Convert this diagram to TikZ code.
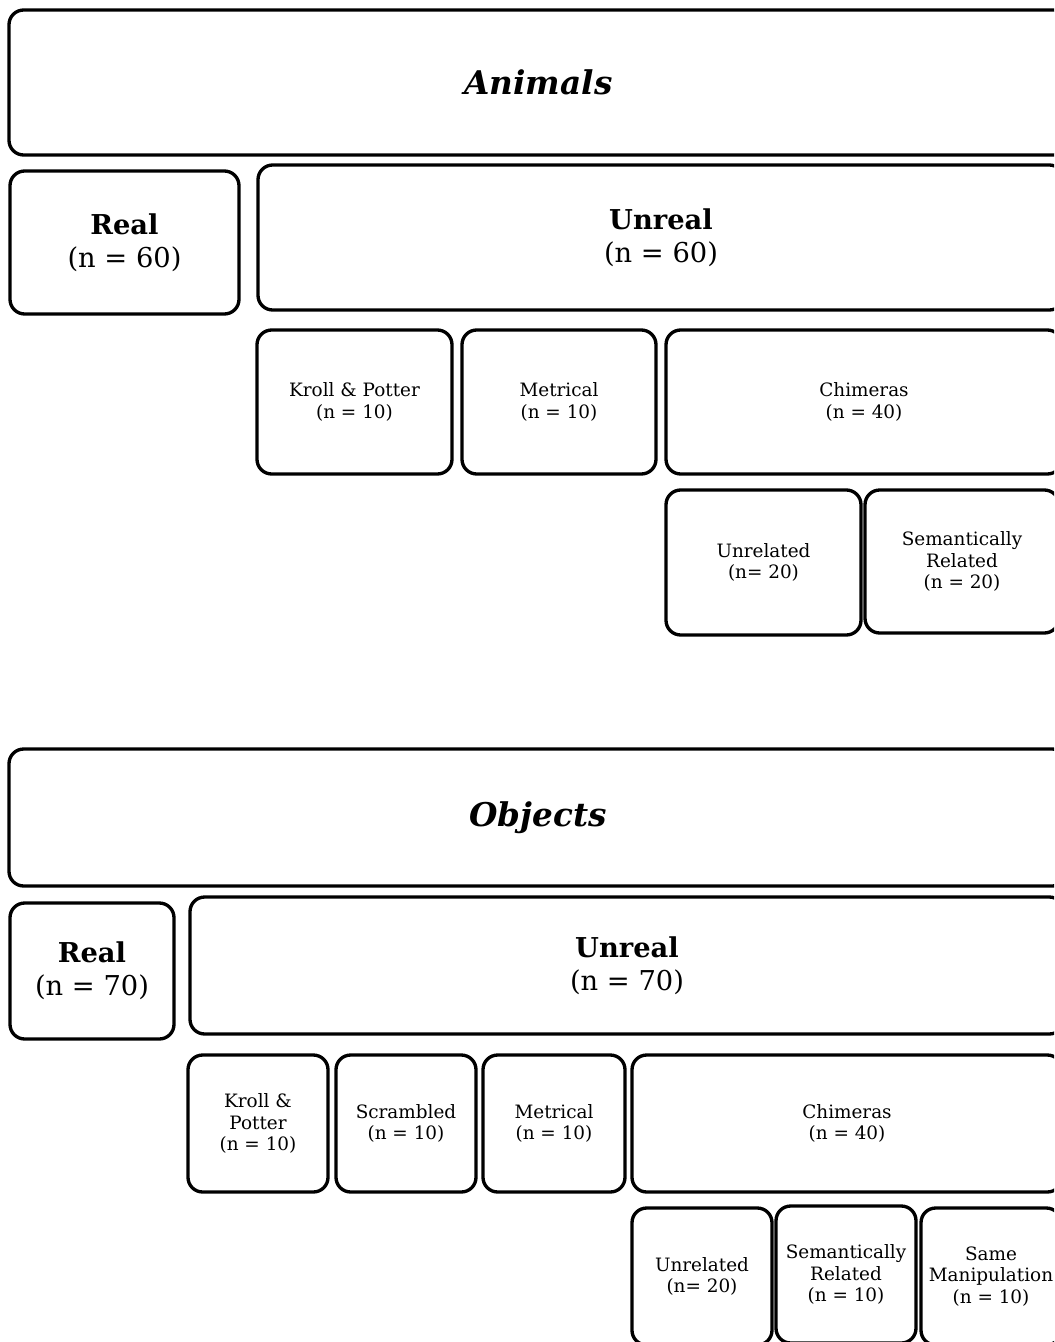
\documentclass[tikz,border=0pt]{standalone}
\usepackage{fontspec}
\setmainfont{DejaVu Serif}
\begin{document}
\begin{tikzpicture}[x=0.75pt,y=-0.75pt,
  box/.style={draw, line width=2.5pt, rounded corners=11pt, align=center, inner sep=0pt},
  small/.style={font=\fontsize{13.8}{16}\selectfont},
  big/.style={font=\fontsize{20.5}{25}\selectfont},
  title/.style={font=\fontsize{24.5}{30}\selectfont\bfseries\itshape}]
\useasboundingbox (0,0) rectangle (1054,1342);
\clip (0,0) rectangle (1054,1342);
% Animals
\node[box,title,minimum width=1059*0.75pt,minimum height=145*0.75pt] (animals) at (538.5,82.5) {Animals};
\node[box,big,minimum width=229*0.75pt,minimum height=143*0.75pt] (areal) at (124.5,242.5) {\textbf{Real}\\(n = 60)};
\node[box,big,minimum width=806*0.75pt,minimum height=145*0.75pt] (aunreal) at (661,237.5) {\textbf{Unreal}\\(n = 60)};
\node[box,small,minimum width=195*0.75pt,minimum height=144*0.75pt] (akroll) at (354.5,402) {Kroll \& Potter\\(n = 10)};
\node[box,small,minimum width=194*0.75pt,minimum height=144*0.75pt] (amet) at (559,402) {Metrical\\(n = 10)};
\node[box,small,minimum width=396*0.75pt,minimum height=144*0.75pt] (achim) at (864,402) {Chimeras\\(n = 40)};
\node[box,small,minimum width=195*0.75pt,minimum height=145*0.75pt] (aunrel) at (763.5,562.5) {Unrelated\\(n= 20)};
\node[box,small,minimum width=194*0.75pt,minimum height=143*0.75pt] (asem) at (962,561.5) {Semantically\\Related\\(n = 20)};
% Objects
\node[box,title,minimum width=1058*0.75pt,minimum height=137*0.75pt] (objects) at (538,817.5) {Objects};
\node[box,big,minimum width=164*0.75pt,minimum height=136*0.75pt] (oreal) at (92,971) {\textbf{Real}\\(n = 70)};
\node[box,big,minimum width=874*0.75pt,minimum height=137*0.75pt] (ounreal) at (627,965.5) {\textbf{Unreal}\\(n = 70)};
\node[box,small,minimum width=140*0.75pt,minimum height=137*0.75pt] (okroll) at (258,1123.5) {Kroll \&\\Potter\\(n = 10)};
\node[box,small,minimum width=140*0.75pt,minimum height=137*0.75pt] (oscr) at (406,1123.5) {Scrambled\\(n = 10)};
\node[box,small,minimum width=142*0.75pt,minimum height=137*0.75pt] (omet) at (554,1123.5) {Metrical\\(n = 10)};
\node[box,small,minimum width=430*0.75pt,minimum height=137*0.75pt] (ochim) at (847,1123.5) {Chimeras\\(n = 40)};
\node[box,small,minimum width=140*0.75pt,minimum height=137*0.75pt] (ounrel) at (702,1276.5) {Unrelated\\(n= 20)};
\node[box,small,minimum width=140*0.75pt,minimum height=137*0.75pt] (osem) at (846,1274.5) {Semantically\\Related\\(n = 10)};
\node[box,small,minimum width=140*0.75pt,minimum height=137*0.75pt] (osame) at (991,1276.5) {Same\\Manipulation\\(n = 10)};
\end{tikzpicture}
\end{document}
